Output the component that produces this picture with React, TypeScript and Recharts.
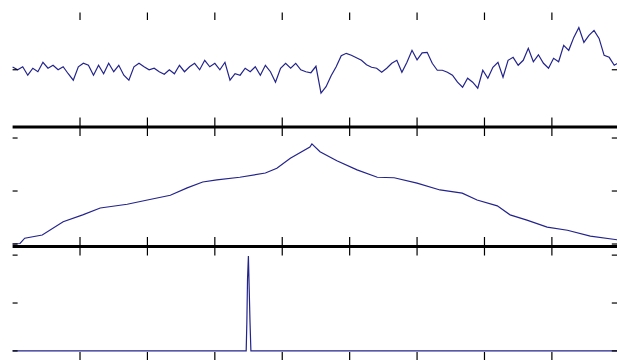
import { LineChart, Line, XAxis, YAxis } from "recharts";

// three stacked traces sharing one x axis (no labels, inward ticks only)

const X_DOMAIN: [number, number] = [0, 900];
const X_TICKS = [100, 200, 300, 400, 500, 600, 700, 800];
const SAMPLE_STEP = 7.5;

// top panel: noisy signal, one sample every SAMPLE_STEP
const topSignal = [
  2.8, 0, 3, -5.5, 1.5, -2, 7.5, 1.5, 4.5, 0, 3, -4, -10.5, 3, 6.5, 4.5, -5.5,
  4.5, -4, 6.5, -2, 4.5, -5.5, -10.5, 3, 6.5, 3, 0, 1.5, -2, -4.5, 0, -4, 4.5,
  -2, 3, 6.5, 0, 9.5, 3, 6.5, 0, 7.5, -10.5, -4, -5.5, 1.5, -2, 3, -5.5, 4.5,
  -2, -12.5, 1.5, 6.5, 1.5, 6.5, 0, -2, -3, 3.5, -23.5, -17, -6, 3, 14, 16.5,
  14.5, 12, 9.5, 5, 2.5, 1.5, -2.5, 1.5, 6.5, 9.5, -2.5, 7.5, 19.5, 10, 17,
  17.5, 6.5, -0.5, -0.5, -2.5, -5.5, -12.5, -17.5, -8.5, -12.5, -18.5, -0.5,
  -8.5, 2.5, 7.5, -7.5, 9.5, 12.5, 4.5, 9.5, 21.5, 8, 15, 6.5, 1.5, 11.5, 8,
  24.5, 19.5, 32.5, 42.5, 27.5, 34.5, 39.5, 31.5, 14.5, 12.5, 4.5, 7.5,
];
const TOP_DOMAIN: [number, number] = [-57.5, 57.5];
const TOP_TICKS = [0];

// middle panel: rising / falling ramp
const midX = [
  0, 11, 18, 44, 75, 104, 130, 170, 200, 234, 259, 282, 303, 337, 375, 392,
  412, 441, 444, 456, 481, 511, 541, 566, 600, 634, 667, 689, 719, 738, 763,
  793, 823, 857, 897,
];
const midV = [
  0, 0.01, 0.11, 0.17, 0.42, 0.55, 0.68, 0.75, 0.83, 0.92, 1.06, 1.17, 1.21,
  1.26, 1.34, 1.43, 1.62, 1.83, 1.89, 1.74, 1.57, 1.4, 1.26, 1.25, 1.15, 1.02,
  0.96, 0.83, 0.72, 0.55, 0.45, 0.32, 0.26, 0.15, 0.08,
];
const MID_DOMAIN: [number, number] = [-0.047, 2.208];
const MID_TICKS = [0, 1, 2];

// bottom panel: single spike
const spikeX = [0, 346.5, 347.5, 348.5, 349.8, 352.2, 353.5, 900];
const spikeV = [0, 0, 0.6, 1.5, 1.98, 0.6, 0, 0];
const BOT_DOMAIN: [number, number] = [-0.2, 2.18];
const BOT_TICKS = [0, 1, 2];

const topData = topSignal.map((v, i) => ({ x: i * SAMPLE_STEP, v }));
const midData = midX.map((x, i) => ({ x, v: midV[i] }));
const botData = spikeX.map((x, i) => ({ x, v: spikeV[i] }));

const LINE_COLOR = "#23238c";
const TICK_STYLE = { stroke: "#000", strokeWidth: 1.2 };
const THICK = { stroke: "#000", strokeWidth: 3 };
const noLabel = () => "";

const W = 620;
const H = 362;

interface PanelProps {
  data: Array<{ x: number; v: number }>;
  top: number;
  bottom: number;
  yDomain: [number, number];
  yTicks: number[];
  topTick: number;
  bottomTick: number;
  bottomLine: boolean;
}

function Panel({
  data,
  top,
  bottom,
  yDomain,
  yTicks,
  topTick,
  bottomTick,
  bottomLine,
}: PanelProps) {
  return (
    <div style={{ position: "absolute", left: 0, top: 0 }}>
      <LineChart
        width={W}
        height={H}
        data={data}
        margin={{ top, bottom: H - bottom, left: 12.6, right: W - 619.3 }}
      >
        <XAxis
          xAxisId="b"
          dataKey="x"
          type="number"
          domain={X_DOMAIN}
          ticks={X_TICKS}
          orientation="bottom"
          height={1}
          mirror
          tickFormatter={noLabel}
          tickSize={bottomTick}
          tickLine={TICK_STYLE}
          axisLine={bottomLine ? THICK : false}
        />
        <XAxis
          xAxisId="t"
          dataKey="x"
          type="number"
          domain={X_DOMAIN}
          ticks={X_TICKS}
          orientation="top"
          height={1}
          mirror
          tickFormatter={noLabel}
          tickSize={topTick}
          tickLine={TICK_STYLE}
          axisLine={false}
        />
        <YAxis
          yAxisId="l"
          dataKey="v"
          type="number"
          domain={yDomain}
          ticks={yTicks}
          orientation="left"
          width={1}
          mirror
          tickFormatter={noLabel}
          tickSize={5}
          tickLine={TICK_STYLE}
          axisLine={false}
        />
        <YAxis
          yAxisId="r"
          dataKey="v"
          type="number"
          domain={yDomain}
          ticks={yTicks}
          orientation="right"
          width={1}
          mirror
          tickFormatter={noLabel}
          tickSize={7.5}
          tickLine={TICK_STYLE}
          axisLine={false}
        />
        <Line
          xAxisId="b"
          yAxisId="l"
          dataKey="v"
          type="linear"
          stroke={LINE_COLOR}
          strokeWidth={1.2}
          dot={false}
          isAnimationActive={false}
        />
      </LineChart>
    </div>
  );
}

export default function App() {
  return (
    <div
      style={{
        position: "fixed",
        left: 0,
        top: 0,
        width: 617,
        height: 360,
        overflow: "hidden",
        background: "#fff",
      }}
    >
      <Panel
        data={topData}
        top={12.5}
        bottom={127}
        yDomain={TOP_DOMAIN}
        yTicks={TOP_TICKS}
        topTick={7.5}
        bottomTick={9.5}
        bottomLine={true}
      />
      <Panel
        data={midData}
        top={127}
        bottom={246.5}
        yDomain={MID_DOMAIN}
        yTicks={MID_TICKS}
        topTick={9}
        bottomTick={9.5}
        bottomLine={true}
      />
      <Panel
        data={botData}
        top={246.5}
        bottom={360.5}
        yDomain={BOT_DOMAIN}
        yTicks={BOT_TICKS}
        topTick={9}
        bottomTick={8.5}
        bottomLine={false}
      />
    </div>
  );
}
